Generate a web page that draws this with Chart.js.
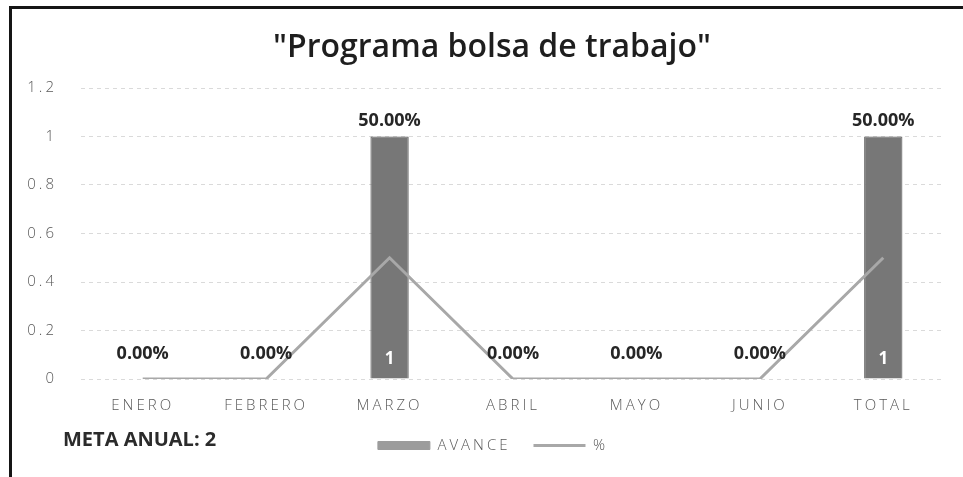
<!DOCTYPE html>
<html>
<head>
<meta charset="utf-8">
<script src="https://cdn.jsdelivr.net/npm/chart.js@4.4.1/dist/chart.umd.min.js"></script>
<style>
  html,body{margin:0;padding:0;background:#fff;overflow:hidden;}
  #wrap{position:absolute;left:0;top:0;width:963px;height:477px;}
  #frame{position:absolute;left:9px;top:6px;width:960px;height:480px;
    border-left:3px solid #151515;border-top:3px solid #151515;pointer-events:none;}
</style>
</head>
<body>
<div id="wrap"><canvas id="chart"></canvas></div>
<div id="frame"></div>
<script>
// ── Data ──
const categories=['ENERO','FEBRERO','MARZO','ABRIL','MAYO','JUNIO','TOTAL'];
const avance=[0,0,1,0,0,0,1];
const pct=[0,0,0.5,0,0,0,0.5];
const yTicks=[0,0.2,0.4,0.6,0.8,1,1.2];
const titleText='"Programa bolsa de trabajo"';
const metaText='META ANUAL: 2';

const SPACING='3px';

// letter spacing for axis + legend text (Excel-ish tracking)
const spacingPlugin={id:'spacing',
  beforeLayout(c){c.ctx.letterSpacing=SPACING;},
  beforeDraw(c){c.ctx.letterSpacing=SPACING;},
  // legend sits a bit left of the plot centre in the original
  afterLayout(c){if(c.legend){c.legend.left-=20;c.legend.right-=20;}}
};

// data labels, title, note
const labelsPlugin={id:'labels',
  afterDatasetsDraw(c){
    const ctx=c.ctx, y=c.scales.y;
    const barMeta=c.getDatasetMeta(0), lineMeta=c.getDatasetMeta(1);
    ctx.save();
    ctx.letterSpacing='0px';
    ctx.textAlign='center';ctx.textBaseline='middle';
    // bar values
    ctx.font='bold 17px "Open Sans"';ctx.fillStyle='#ffffff';
    barMeta.data.forEach((b,i)=>{
      if(avance[i]>0) ctx.fillText(String(avance[i]),b.x,y.getPixelForValue(0)-20);
    });
    // % labels
    ctx.font='bold 18px "Open Sans"';ctx.fillStyle='#262626';
    lineMeta.data.forEach((p,i)=>{
      const top=Math.min(p.y,y.getPixelForValue(avance[i]));
      const off=avance[i]>0?16:25;
      ctx.fillText((pct[i]*100).toFixed(2)+'%',p.x,top-off);
    });
    ctx.restore();
  },
  afterDraw(c){
    const ctx=c.ctx;
    ctx.save();
    ctx.letterSpacing='0px';
    ctx.textBaseline='middle';
    ctx.textAlign='center';
    ctx.font='600 32px "Open Sans"';ctx.fillStyle='#1e1e1e';
    ctx.fillText(titleText,492,48);
    ctx.textAlign='left';
    ctx.font='bold 20px "Open Sans"';ctx.fillStyle='#2b2b2b';
    ctx.fillText(metaText,63,440);
    ctx.restore();
  }
};

new Chart(document.getElementById('chart'),{
  data:{labels:categories,datasets:[
    {type:'bar',label:'AVANCE',data:avance,backgroundColor:'#777777',borderColor:'#555555',borderWidth:1,
      barPercentage:0.31,categoryPercentage:1,order:1},
    {type:'line',label:'%',data:pct,borderColor:'#a8a8a8',borderWidth:3,pointRadius:0,tension:0,fill:false,order:0}
  ]},
  options:{responsive:true,maintainAspectRatio:false,animation:false,
    layout:{padding:{top:88,left:20,right:18,bottom:14}},
    scales:{
      x:{grid:{display:false,drawTicks:false},border:{display:false},
        afterFit(s){s.height=36;},
        ticks:{color:'#595959',padding:18,font:{family:'"Open Sans"',size:15,weight:300}}},
      y:{min:0,max:1.2,
        afterBuildTicks(s){s.ticks=yTicks.map(v=>({value:v}));},
        afterFit(s){s.width=61;},
        grid:{color:'#dadada',lineWidth:1,drawTicks:false},
        border:{display:false,dash:[4,4]},
        ticks:{color:'#595959',padding:24,font:{family:'"Open Sans"',size:15,weight:300},
          callback:v=>String(+(+v).toFixed(1))}}
    },
    plugins:{
      title:{display:false},tooltip:{enabled:false},
      legend:{position:'bottom',fullSize:false,
        labels:{color:'#595959',padding:23,usePointStyle:true,pointStyleWidth:52,boxHeight:8,
          font:{family:'"Open Sans"',size:15,weight:300},
          generateLabels(c){
            const items=Chart.defaults.plugins.legend.labels.generateLabels(c);
            items.forEach(it=>{
              if(it.text==='AVANCE'){it.pointStyle='rect';it.fillStyle='#9c9c9c';it.strokeStyle='#9c9c9c';}
              else{it.pointStyle='line';it.strokeStyle='#a8a8a8';it.lineWidth=3;}
            });
            items.sort((a,b)=>(a.text==='%')-(b.text==='%'));
            return items;
          }}}
    }
  },
  plugins:[spacingPlugin,labelsPlugin]
});
</script>
</body>
</html>
